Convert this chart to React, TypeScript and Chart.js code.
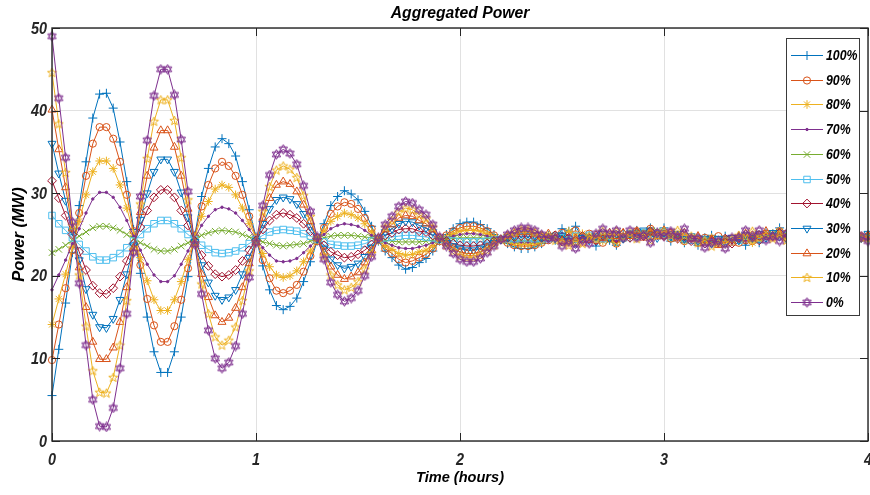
import React, { useEffect, useRef } from 'react';
import { Chart, registerables } from 'chart.js';
import { drawPoint } from 'chart.js/helpers';

Chart.register(...registerables);

// ---------------- data ----------------
const SAMPLE_STEP_HOURS = 1 / 30; // one sample every 2 minutes
const SERIES_LABELS = ['100%', '90%', '80%', '70%', '60%', '50%', '40%', '30%', '20%', '10%', '0%'];
const X_TICK_VALUES = [0, 1, 2, 3, 4];
const Y_TICK_VALUES = [0, 10, 20, 30, 40, 50];
const CHART_TITLE = 'Aggregated Power';
const X_TITLE = 'Time (hours)';
const Y_TITLE = 'Power (MW)';

const P100 = [
  5.5, 11.1, 16.7, 22.8, 28.5, 33.8, 39.1, 42.0, 42.1, 40.3,
  36.2, 31.4, 25.6, 20.3, 15.0, 10.8, 8.3, 8.3, 10.8, 15.0,
  19.9, 24.9, 29.6, 33.0, 35.6, 36.6, 36.0, 34.5, 31.4, 28.0,
  24.7, 21.2, 18.3, 16.4, 15.9, 16.3, 17.3, 19.3, 21.7, 24.2,
  26.3, 28.5, 29.6, 30.3, 29.9, 29.2, 27.8, 26.0, 24.2, 23.0,
  22.2, 21.3, 20.8, 21.0, 21.6, 22.1, 23.0, 24.2, 25.0, 25.7,
  26.3, 26.5, 26.5, 26.2, 25.7, 25.0, 24.4, 23.9, 23.5, 23.3,
  23.3, 23.5, 23.9,
  24.9, 24.3, 25.7, 25.4, 26.0, 24.6, 24.9, 23.6, 24.6, 24.3, 23.7, 25.1,
  24.6, 25.5, 24.8, 25.8, 25.2, 25.8, 24.2, 24.8, 24.0, 24.6, 23.7, 24.6,
  24.9, 24.0, 24.8, 24.2, 24.8, 23.7, 24.6, 24.0, 25.2, 25.1, 25.8, 24.8,
  25.2, 24.5, 24.8, 23.7, 24.6, 24.6, 24.2, 25.2, 24.6, 25.1, 24.6, 24.9,
];
const P90 = [
  9.8, 14.1, 18.5, 23.1, 27.6, 32.1, 36.0, 38.0, 38.0, 36.6,
  33.8, 29.8, 25.4, 21.3, 17.2, 14.0, 12.0, 12.0, 13.9, 17.1,
  20.9, 24.8, 28.4, 31.0, 33.0, 33.8, 33.3, 32.1, 29.8, 27.2,
  24.6, 21.9, 19.7, 18.2, 17.9, 18.2, 18.9, 20.5, 22.4, 24.2,
  25.8, 27.5, 28.4, 28.9, 28.7, 28.1, 27.0, 25.7, 24.3, 23.3,
  22.7, 22.0, 21.6, 21.8, 22.2, 22.6, 23.3, 24.2, 24.9, 25.4,
  25.8, 26.0, 26.0, 25.8, 25.4, 24.9, 24.4, 24.0, 23.7, 23.6,
  23.6, 23.7, 24.0,
  24.3, 24.9, 25.2, 24.9, 25.5, 24.8, 25.1, 24.3, 24.0, 24.5, 23.9, 24.5,
  24.9, 25.4, 25.1, 25.7, 25.2, 24.9, 24.5, 24.8, 24.2, 24.5, 24.0, 24.6,
  24.5, 24.8, 24.2, 24.5, 24.0, 24.3, 24.2, 24.6, 25.1, 24.8, 25.4, 25.1,
  24.6, 24.9, 24.3, 24.6, 24.2, 24.8, 24.5, 24.9, 24.6, 25.1, 24.8, 24.6,
];
const P80 = [
  14.1, 17.2, 20.2, 23.5, 26.6, 29.8, 32.6, 33.9, 33.9, 33.0,
  31.0, 28.2, 25.1, 22.2, 19.4, 17.1, 15.8, 15.8, 17.1, 19.3,
  22.0, 24.7, 27.2, 29.0, 30.5, 31.0, 30.7, 29.8, 28.2, 26.3,
  24.6, 22.7, 21.1, 20.1, 19.8, 20.0, 20.6, 21.7, 23.0, 24.3,
  25.4, 26.6, 27.2, 27.6, 27.4, 27.0, 26.3, 25.3, 24.3, 23.6,
  23.2, 22.7, 22.5, 22.6, 22.9, 23.1, 23.6, 24.3, 24.7, 25.1,
  25.4, 25.5, 25.5, 25.4, 25.1, 24.7, 24.4, 24.2, 23.9, 23.8,
  23.8, 23.9, 24.1,
  24.5, 24.9, 24.8, 25.4, 24.9, 25.1, 24.6, 24.5, 24.2, 24.5, 24.0, 24.6,
  24.8, 25.2, 24.9, 25.5, 25.1, 24.8, 24.6, 24.5, 24.2, 24.6, 24.5, 24.3,
  24.6, 24.0, 24.5, 24.3, 24.2, 24.5, 24.0, 24.6, 24.8, 25.1, 25.4, 24.9,
  25.1, 24.6, 24.5, 24.9, 24.3, 24.6, 24.9, 24.8, 25.1, 24.6, 24.5, 24.8,
];
const P70 = [
  18.3, 20.1, 21.9, 23.9, 25.7, 27.6, 29.3, 30.1, 30.1, 29.5,
  28.3, 26.7, 24.8, 23.1, 21.4, 20.1, 19.3, 19.3, 20.0, 21.4,
  23.0, 24.6, 26.1, 27.2, 28.0, 28.3, 28.1, 27.6, 26.7, 25.6,
  24.5, 23.4, 22.5, 21.8, 21.7, 21.8, 22.1, 22.8, 23.6, 24.3,
  25.0, 25.7, 26.1, 26.3, 26.2, 26.0, 25.5, 24.9, 24.4, 24.0,
  23.7, 23.4, 23.3, 23.3, 23.5, 23.7, 24.0, 24.3, 24.6, 24.8,
  25.0, 25.1, 25.1, 25.0, 24.8, 24.6, 24.4, 24.3, 24.1, 24.1,
  24.1, 24.1, 24.3,
  24.8, 24.5, 25.1, 24.8, 24.6, 24.9, 24.5, 24.8, 24.3, 24.6, 24.2, 24.8,
  24.9, 25.1, 25.4, 24.9, 25.2, 24.9, 24.6, 24.9, 24.3, 24.6, 24.3, 24.0,
  24.5, 24.2, 24.3, 24.0, 24.5, 24.3, 24.8, 24.5, 24.9, 24.8, 25.1, 24.9,
  24.8, 24.9, 24.5, 24.8, 24.3, 24.6, 24.8, 24.5, 24.9, 24.6, 24.5, 24.8,
];
const P60 = [
  22.8, 23.2, 23.7, 24.3, 24.8, 25.3, 25.8, 26.0, 26.0, 25.8,
  25.5, 25.0, 24.5, 24.0, 23.6, 23.2, 23.0, 23.0, 23.2, 23.6,
  24.0, 24.4, 24.9, 25.2, 25.4, 25.5, 25.4, 25.3, 25.0, 24.7,
  24.4, 24.1, 23.9, 23.7, 23.6, 23.7, 23.8, 23.9, 24.2, 24.4,
  24.6, 24.8, 24.9, 24.9, 24.9, 24.8, 24.7, 24.6, 24.4, 24.3,
  24.2, 24.1, 24.1, 24.1, 24.1, 24.2, 24.3, 24.4, 24.5, 24.5,
  24.6, 24.6, 24.6, 24.6, 24.5, 24.5, 24.4, 24.4, 24.3, 24.3,
  24.3, 24.3, 24.4,
  24.6, 24.5, 24.8, 24.6, 24.3, 24.6, 24.8, 24.5, 24.6, 24.3, 24.6, 24.8,
  24.9, 25.2, 24.9, 25.1, 25.4, 24.9, 25.1, 24.8, 24.5, 24.6, 24.2, 24.3,
  24.2, 23.9, 24.3, 24.2, 24.6, 24.5, 24.8, 24.6, 24.6, 25.1, 24.8, 25.1,
  24.8, 24.6, 24.8, 24.5, 24.6, 24.9, 24.5, 24.6, 24.8, 24.5, 24.6, 24.6,
];
const P50 = [
  27.3, 26.3, 25.5, 24.6, 23.8, 23.0, 22.3, 21.9, 21.9, 22.2,
  22.7, 23.4, 24.2, 25.0, 25.7, 26.3, 26.7, 26.7, 26.3, 25.7,
  25.0, 24.3, 23.7, 23.2, 22.8, 22.7, 22.8, 23.0, 23.4, 23.9,
  24.4, 24.9, 25.3, 25.5, 25.6, 25.5, 25.4, 25.1, 24.8, 24.4,
  24.1, 23.8, 23.7, 23.6, 23.6, 23.7, 23.9, 24.2, 24.4, 24.6,
  24.7, 24.8, 24.9, 24.9, 24.8, 24.7, 24.6, 24.4, 24.3, 24.2,
  24.1, 24.1, 24.1, 24.1, 24.2, 24.3, 24.4, 24.5, 24.5, 24.6,
  24.6, 24.5, 24.5,
  24.5, 24.8, 24.6, 24.3, 24.8, 24.5, 24.9, 24.6, 24.5, 24.8, 24.9, 24.6,
  25.1, 24.9, 25.2, 24.8, 25.1, 25.2, 24.8, 24.9, 24.6, 24.3, 24.5, 24.2,
  24.0, 24.3, 24.2, 24.5, 24.3, 24.8, 24.6, 24.5, 24.9, 24.8, 25.1, 24.9,
  24.6, 24.9, 24.5, 24.6, 24.8, 24.5, 24.8, 24.6, 24.5, 24.8, 24.6, 24.5,
];
const P40 = [
  31.5, 29.4, 27.3, 25.0, 22.9, 20.7, 18.8, 17.9, 17.8, 18.5,
  19.9, 21.8, 23.9, 25.9, 27.9, 29.5, 30.4, 30.4, 29.5, 27.9,
  26.1, 24.2, 22.5, 21.2, 20.2, 19.9, 20.1, 20.7, 21.8, 23.1,
  24.3, 25.6, 26.7, 27.4, 27.6, 27.4, 27.0, 26.3, 25.4, 24.5,
  23.7, 22.9, 22.5, 22.2, 22.3, 22.6, 23.1, 23.8, 24.5, 24.9,
  25.2, 25.6, 25.7, 25.7, 25.4, 25.3, 24.9, 24.5, 24.2, 23.9,
  23.7, 23.6, 23.6, 23.7, 23.9, 24.2, 24.4, 24.6, 24.7, 24.8,
  24.8, 24.7, 24.6,
  24.6, 24.9, 24.3, 24.6, 24.2, 24.8, 24.5, 24.3, 24.9, 24.6, 24.5, 25.1,
  24.6, 25.2, 24.8, 25.4, 24.9, 24.8, 25.2, 24.5, 24.8, 24.2, 24.6, 23.9,
  24.3, 24.0, 24.5, 23.9, 24.6, 24.5, 24.9, 24.3, 24.9, 24.8, 25.2, 24.6,
  24.8, 24.5, 24.9, 24.3, 24.8, 24.9, 24.5, 24.8, 24.3, 24.9, 24.6, 24.8,
];
const P30 = [
  36.0, 32.4, 29.1, 25.4, 21.9, 18.4, 15.3, 13.8, 13.7, 14.8,
  17.1, 20.2, 23.7, 26.8, 30.0, 32.6, 34.1, 34.1, 32.6, 30.1,
  27.1, 24.1, 21.3, 19.2, 17.6, 17.1, 17.4, 18.3, 20.2, 22.2,
  24.2, 26.3, 28.1, 29.2, 29.5, 29.3, 28.7, 27.5, 26.0, 24.5,
  23.3, 22.0, 21.3, 20.9, 21.1, 21.5, 22.3, 23.4, 24.5, 25.3,
  25.7, 26.3, 26.6, 26.5, 26.1, 25.8, 25.3, 24.5, 24.0, 23.6,
  23.3, 23.1, 23.1, 23.3, 23.7, 24.0, 24.4, 24.7, 24.9, 25.1,
  25.1, 24.9, 24.7,
  24.8, 24.5, 24.9, 24.2, 24.0, 24.6, 24.3, 24.8, 25.1, 24.6, 25.1, 24.5,
  25.1, 24.8, 25.5, 24.9, 24.6, 25.2, 24.8, 25.1, 24.5, 24.8, 24.2, 24.5,
  23.9, 24.5, 24.0, 24.6, 24.3, 24.9, 24.6, 25.1, 24.6, 25.2, 24.8, 24.5,
  24.9, 25.1, 24.5, 24.8, 24.3, 24.8, 25.1, 24.6, 24.9, 24.5, 24.6, 25.1,
];
const P20 = [
  40.1, 35.3, 30.7, 25.7, 21.0, 16.2, 12.0, 9.9, 9.9, 11.3,
  14.4, 18.6, 23.4, 27.7, 32.1, 35.5, 37.6, 37.6, 35.6, 32.1,
  28.1, 24.0, 20.2, 17.4, 15.2, 14.4, 14.9, 16.1, 18.6, 21.5,
  24.1, 27.0, 29.4, 31.0, 31.4, 31.1, 30.2, 28.6, 26.6, 24.6,
  22.9, 21.1, 20.1, 19.6, 19.9, 20.4, 21.6, 23.1, 24.5, 25.6,
  26.2, 27.0, 27.3, 27.2, 26.7, 26.3, 25.6, 24.6, 23.9, 23.3,
  22.9, 22.7, 22.7, 22.9, 23.4, 23.9, 24.4, 24.8, 25.1, 25.3,
  25.3, 25.1, 24.8,
  25.1, 24.6, 24.2, 23.9, 24.5, 24.0, 24.3, 24.9, 24.6, 25.2, 24.8, 25.2,
  24.8, 25.4, 24.6, 25.2, 24.8, 25.5, 25.1, 24.6, 25.2, 24.5, 24.8, 24.0,
  24.3, 23.7, 24.3, 24.0, 24.8, 25.1, 24.5, 24.9, 25.4, 24.6, 25.1, 24.5,
  25.2, 24.6, 24.3, 24.9, 24.5, 25.1, 24.6, 24.9, 24.3, 24.8, 24.5, 24.9,
];
const P10 = [
  44.6, 38.4, 32.5, 26.1, 20.1, 13.9, 8.5, 5.9, 5.8, 7.7,
  11.6, 17.0, 23.1, 28.7, 34.2, 38.7, 41.3, 41.3, 38.8, 34.3,
  29.2, 23.9, 19.0, 15.4, 12.6, 11.6, 12.2, 13.8, 17.0, 20.6,
  24.1, 27.8, 30.8, 32.8, 33.3, 32.9, 31.9, 29.7, 27.2, 24.6,
  22.4, 20.1, 18.9, 18.3, 18.6, 19.3, 20.8, 22.7, 24.6, 25.9,
  26.7, 27.7, 28.2, 28.0, 27.4, 26.9, 25.9, 24.6, 23.7, 23.0,
  22.4, 22.2, 22.2, 22.5, 23.1, 23.7, 24.4, 24.9, 25.3, 25.6,
  25.6, 25.3, 24.9,
  24.8, 24.3, 24.0, 23.7, 24.2, 23.9, 24.8, 24.5, 25.4, 24.9, 25.4, 24.8,
  25.2, 24.5, 25.1, 24.3, 24.9, 25.4, 24.9, 25.5, 24.9, 24.8, 24.0, 24.3,
  23.6, 24.0, 23.9, 24.5, 24.9, 24.8, 25.4, 24.6, 24.9, 24.5, 24.9, 24.3,
  25.1, 24.6, 25.1, 24.6, 25.2, 24.5, 24.8, 24.3, 24.6, 24.2, 24.8, 24.5,
];
const P0 = [
  49.0, 41.5, 34.3, 26.5, 19.1, 11.6, 5.0, 1.8, 1.7, 4.0,
  8.8, 15.4, 22.8, 29.6, 36.4, 41.8, 45.0, 45.0, 41.9, 36.5,
  30.2, 23.8, 17.8, 13.4, 10.0, 8.8, 9.5, 11.5, 15.4, 19.8,
  24.0, 28.5, 32.2, 34.7, 35.3, 34.8, 33.5, 30.9, 27.8, 24.7,
  22.0, 19.2, 17.7, 16.9, 17.3, 18.2, 20.0, 22.3, 24.6, 26.2,
  27.2, 28.4, 29.0, 28.8, 28.0, 27.4, 26.2, 24.7, 23.6, 22.7,
  22.0, 21.7, 21.7, 22.1, 22.8, 23.6, 24.4, 25.0, 25.5, 25.8,
  25.8, 25.5, 25.0,
  24.5, 24.6, 23.6, 24.2, 23.3, 24.3, 23.9, 25.1, 25.7, 25.1, 25.5, 24.6,
  25.5, 24.6, 24.9, 24.0, 25.2, 24.8, 25.4, 24.8, 25.7, 24.5, 24.5, 23.4,
  24.0, 24.2, 23.3, 24.6, 24.6, 25.5, 24.8, 25.5, 24.3, 24.8, 24.2, 25.1,
  24.2, 25.1, 24.8, 25.4, 24.5, 25.1, 24.5, 25.1, 24.0, 24.5, 24.8, 24.2,
];

const SERIES_VALUES = [P100, P90, P80, P70, P60, P50, P40, P30, P20, P10, P0];

// ---------------- styles ----------------
const BLUE = '#0072BD';
const ORANGE = '#D95319';
const YELLOW = '#EDB120';
const PURPLE = '#7E2F8E';
const GREEN = '#77AC30';
const LIGHTBLUE = '#4DBEEE';
const DARKRED = '#A2142F';
const AXIS_COLOR = '#262626';
const GRID_COLOR = '#e1e1e1';
const FONT_FAMILY = '"Liberation Sans", Arial, Helvetica, sans-serif';

function makePentagram(color: string): HTMLCanvasElement {
  const size = 11;
  const c = document.createElement('canvas');
  c.width = size;
  c.height = size;
  const ctx = c.getContext('2d')!;
  ctx.strokeStyle = color;
  ctx.lineWidth = 1;
  ctx.beginPath();
  const outer = 4.8;
  const inner = 2.0;
  for (let k = 0; k < 10; k++) {
    const r = k % 2 === 0 ? outer : inner;
    const a = -Math.PI / 2 + (k * Math.PI) / 5;
    const x = size / 2 + r * Math.cos(a);
    const y = size / 2 + 0.3 + r * Math.sin(a);
    if (k === 0) ctx.moveTo(x, y);
    else ctx.lineTo(x, y);
  }
  ctx.closePath();
  ctx.stroke();
  return c;
}

function makeHexagram(color: string): HTMLCanvasElement {
  const size = 11;
  const c = document.createElement('canvas');
  c.width = size;
  c.height = size;
  const ctx = c.getContext('2d')!;
  ctx.strokeStyle = color;
  ctx.lineWidth = 1;
  const r = 4.8;
  for (let t = 0; t < 2; t++) {
    ctx.beginPath();
    for (let k = 0; k < 3; k++) {
      const a = -Math.PI / 2 + t * Math.PI + (k * 2 * Math.PI) / 3;
      const x = size / 2 + r * Math.cos(a);
      const y = size / 2 + r * Math.sin(a);
      if (k === 0) ctx.moveTo(x, y);
      else ctx.lineTo(x, y);
    }
    ctx.closePath();
    ctx.stroke();
  }
  return c;
}

type MarkerSpec = { color: string; style: any; radius: number; rotation?: number; filled?: boolean };

function buildMarkers(): MarkerSpec[] {
  return [
    { color: BLUE, style: 'cross', radius: 4.5 },
    { color: ORANGE, style: 'circle', radius: 3.6 },
    { color: YELLOW, style: 'star', radius: 4.3 },
    { color: PURPLE, style: 'circle', radius: 1.2, filled: true },
    { color: GREEN, style: 'crossRot', radius: 4.6 },
    { color: LIGHTBLUE, style: 'rect', radius: 4.6 },
    { color: DARKRED, style: 'rectRot', radius: 4.4 },
    { color: BLUE, style: 'triangle', radius: 4.6, rotation: 180 },
    { color: ORANGE, style: 'triangle', radius: 4.6 },
    { color: YELLOW, style: makePentagram(YELLOW), radius: 4.5 },
    { color: PURPLE, style: makeHexagram(PURPLE), radius: 4.5 },
  ];
}

function drawText(
  ctx: CanvasRenderingContext2D,
  text: string,
  x: number,
  y: number,
  size: number,
  scaleX: number,
  align: CanvasTextAlign,
  color: string,
  rotate = 0
) {
  ctx.save();
  ctx.translate(x, y);
  if (rotate) ctx.rotate(rotate);
  ctx.scale(scaleX, 1);
  ctx.font = `italic bold ${size}px ${FONT_FAMILY}`;
  ctx.textAlign = align;
  ctx.textBaseline = 'middle';
  ctx.fillStyle = color;
  ctx.fillText(text, 0, 0);
  ctx.restore();
}

export default function App() {
  const canvasRef = useRef<HTMLCanvasElement | null>(null);

  useEffect(() => {
    const canvas = canvasRef.current;
    if (!canvas) return;
    const markers = buildMarkers();

    const datasets = SERIES_VALUES.map((values, si) => {
      const m = markers[si];
      return {
        label: SERIES_LABELS[si],
        data: values.map((y, i) => ({ x: i * SAMPLE_STEP_HOURS, y })),
        borderColor: m.color,
        borderWidth: 1,
        pointStyle: m.style,
        pointRadius: m.radius,
        pointRotation: m.rotation || 0,
        pointBorderColor: m.color,
        pointBackgroundColor: m.filled ? m.color : 'rgba(0,0,0,0)',
        pointBorderWidth: 1,
        tension: 0,
        fill: false,
        clip: false as any,
        order: SERIES_VALUES.length - 1 - si,
      };
    });

    const backgroundPlugin = {
      id: 'bg',
      beforeDraw(chart: any) {
        const ctx = chart.ctx;
        ctx.save();
        ctx.fillStyle = '#ffffff';
        ctx.fillRect(0, 0, chart.width, chart.height);
        ctx.restore();
      },
    };

    const framePlugin = {
      id: 'frame',
      afterDatasetsDraw(chart: any) {
        const ctx: CanvasRenderingContext2D = chart.ctx;
        const { left, right, top, bottom } = chart.chartArea;
        const xs = chart.scales.x;
        const ys = chart.scales.y;
        ctx.save();
        ctx.strokeStyle = AXIS_COLOR;
        ctx.lineWidth = 1.4;
        ctx.strokeRect(left, top, right - left, bottom - top);
        ctx.lineWidth = 1;
        const tl = 8;
        ctx.beginPath();
        X_TICK_VALUES.forEach((v) => {
          const px = Math.round(xs.getPixelForValue(v)) + 0.5;
          ctx.moveTo(px, bottom);
          ctx.lineTo(px, bottom - tl);
          ctx.moveTo(px, top);
          ctx.lineTo(px, top + tl);
        });
        Y_TICK_VALUES.forEach((v) => {
          const py = Math.round(ys.getPixelForValue(v)) + 0.5;
          ctx.moveTo(left, py);
          ctx.lineTo(left + tl, py);
          ctx.moveTo(right, py);
          ctx.lineTo(right - tl, py);
        });
        ctx.stroke();
        ctx.restore();
      },
    };

    const textPlugin = {
      id: 'texts',
      afterDraw(chart: any) {
        const ctx: CanvasRenderingContext2D = chart.ctx;
        const { left, right, top, bottom } = chart.chartArea;
        const xs = chart.scales.x;
        const ys = chart.scales.y;
        const cx = (left + right) / 2;
        const cy = (top + bottom) / 2;

        // legend
        const boxL = 786;
        const boxT = 38;
        const boxW = 73;
        const boxH = 277;
        ctx.save();
        ctx.fillStyle = '#ffffff';
        ctx.fillRect(boxL, boxT, boxW, boxH);
        ctx.strokeStyle = '#3a3a3a';
        ctx.lineWidth = 1;
        ctx.strokeRect(boxL + 0.5, boxT + 0.5, boxW, boxH);
        const rowStep = 24.7;
        SERIES_LABELS.forEach((lab, si) => {
          const m = markers[si];
          const ry = Math.round(boxT + 17 + si * rowStep) + 0.5;
          ctx.strokeStyle = m.color;
          ctx.lineWidth = 1;
          ctx.beginPath();
          ctx.moveTo(791, ry);
          ctx.lineTo(823, ry);
          ctx.stroke();
          ctx.fillStyle = m.filled ? m.color : 'rgba(0,0,0,0)';
          ctx.strokeStyle = m.color;
          drawPoint(ctx, { pointStyle: m.style, radius: m.radius, rotation: m.rotation || 0, borderWidth: 1 } as any, 807, ry);
          drawText(ctx, lab, 826, ry, 15, 0.82, 'left', '#000000');
        });
        ctx.restore();

        // tick labels
        X_TICK_VALUES.forEach((v) => {
          drawText(ctx, String(v), xs.getPixelForValue(v), bottom + 19, 17, 0.85, 'center', AXIS_COLOR);
        });
        Y_TICK_VALUES.forEach((v) => {
          drawText(ctx, String(v), left - 5, ys.getPixelForValue(v) + 1, 17, 0.85, 'right', AXIS_COLOR);
        });

        // titles
        drawText(ctx, CHART_TITLE, cx, 14, 16, 0.98, 'center', '#000000');
        drawText(ctx, X_TITLE, cx, bottom + 37, 15.5, 0.94, 'center', '#000000');
        drawText(ctx, Y_TITLE, 19, cy, 17, 0.97, 'center', '#000000', -Math.PI / 2);
      },
    };

    const chart = new Chart(canvas, {
      type: 'line',
      data: { datasets: datasets as any },
      options: {
        animation: false,
        responsive: false,
        events: [],
        layout: { autoPadding: false, padding: { left: 0, top: 28, right: 2, bottom: 0 } },
        plugins: {
          legend: { display: false },
          title: { display: false },
          tooltip: { enabled: false },
        },
        scales: {
          x: {
            type: 'linear',
            min: 0,
            max: 4,
            ticks: { stepSize: 1, display: false },
            grid: { color: GRID_COLOR, drawTicks: false, lineWidth: 1 },
            border: { display: false },
            afterFit(scale: any) {
              scale.height = 54;
              scale.paddingLeft = 0;
              scale.paddingRight = 0;
            },
          },
          y: {
            type: 'linear',
            min: 0,
            max: 50,
            ticks: { stepSize: 10, display: false },
            grid: { color: GRID_COLOR, drawTicks: false, lineWidth: 1 },
            border: { display: false },
            afterFit(scale: any) {
              scale.width = 52;
              scale.paddingTop = 0;
              scale.paddingBottom = 0;
            },
          },
        },
      } as any,
      plugins: [backgroundPlugin, framePlugin, textPlugin],
    });

    return () => {
      chart.destroy();
    };
  }, []);

  return (
    <div style={{ position: 'fixed', left: 0, top: 0, width: 870, height: 495, background: '#fff' }}>
      <canvas ref={canvasRef} width={870} height={495} style={{ width: 870, height: 495, display: 'block' }} />
    </div>
  );
}
